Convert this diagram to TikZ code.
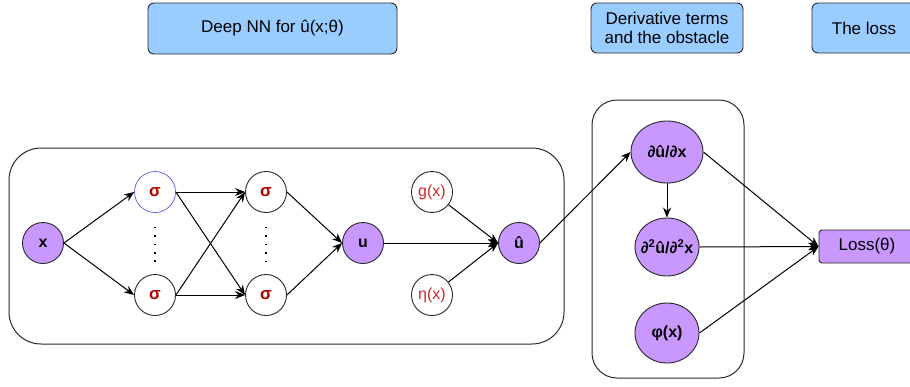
\documentclass[tikz,border=0pt]{standalone}
\usepackage{fontspec}
\setmainfont{Liberation Sans}
\usepackage{tikz}
\usetikzlibrary{
    shapes.geometric,      % Ellipses
    arrows.meta            % Modern arrow tips
}
\definecolor{nodepurple}{RGB}{200,152,255}
\definecolor{headblue}{RGB}{153,204,255}
\definecolor{sigred}{RGB}{178,0,0}
\definecolor{givenred}{RGB}{205,40,40}
\definecolor{sigblue}{RGB}{85,85,230}
\definecolor{framegray}{RGB}{40,40,40}

\begin{document}
\begin{tikzpicture}[x=1pt,y=-1pt,
    neuron/.style={circle,draw=framegray,fill=nodepurple,line width=0.9pt,minimum size=41pt,inner sep=1pt,font=\fontsize{16}{19}\selectfont\bfseries},
    hidden/.style={circle,draw=framegray,fill=white,line width=0.9pt,minimum size=41pt,inner sep=1pt,text=sigred,font=\fontsize{17}{19}\selectfont\bfseries},
    given/.style={circle,draw=framegray,fill=white,line width=0.9pt,minimum size=41pt,inner sep=1pt,text=givenred,font=\fontsize{16}{19}\selectfont},
    deriv/.style={ellipse,draw=framegray,fill=nodepurple,line width=0.9pt,inner sep=0pt,font=\fontsize{16}{19}\selectfont\bfseries},
    lossbox/.style={rectangle,rounded corners=3pt,draw=framegray,fill=nodepurple,line width=0.9pt,minimum width=96pt,minimum height=33pt,font=\fontsize{17}{20}\selectfont},
    header/.style={rectangle,rounded corners=6pt,draw=framegray,fill=headblue,line width=0.9pt,font=\fontsize{17}{19}\selectfont},
    frame/.style={draw=framegray,line width=1pt},
    link/.style={-{Stealth[length=10pt,width=8pt]},line width=1pt},
    vdots/.style={line width=1.8pt,dash pattern=on 1.5pt off 6.9pt,shorten <=14pt,shorten >=12.5pt}]
    \useasboundingbox (0,0) rectangle (910,386);

    \draw[frame,rounded corners=32pt] (9,148) rectangle (564,344);
    \draw[frame,rounded corners=25pt] (592,100) rectangle (744,378);

    \node[header,minimum width=249pt,minimum height=51pt] (nnhead) at (272.5,28.5) {Deep NN for û(x;θ)};
    \node[header,minimum width=152pt,minimum height=50pt,align=center] (derhead) at (667,28) {Derivative terms\\and the obstacle};
    \node[header,minimum width=104pt,minimum height=50pt] (losshead) at (864,28) {The loss};

    \node[neuron] (x) at (43,243) {x};
    \node[hidden,draw=sigblue,line width=0.7pt] (s1a) at (155,192) {σ};
    \node[hidden] (s1b) at (155,295) {σ};
    \node[hidden] (s2a) at (266,192) {σ};
    \node[hidden] (s2b) at (266,295) {σ};
    \node[neuron] (u) at (363,243) {u};
    \node[given] (g) at (432,192) {g(x)};
    \node[given] (eta) at (432,295) {η(x)};
    \node[neuron] (uhat) at (519,243) {û};
    \node[deriv,minimum width=72pt,minimum height=62pt] (dudx) at (667,152) {∂û/∂x};
    \node[deriv,minimum width=64pt,minimum height=58pt,label={[font=\fontsize{16}{19}\selectfont\bfseries]center:∂\textsuperscript{2}û/∂\textsuperscript{2}x}] (d2udx) at (667,247) {};
    \node[deriv,minimum width=64pt,minimum height=60pt] (phi) at (667,333) {φ(x)};
    \node[lossbox] (loss) at (867,246.5) {Loss(θ)};

    \draw[vdots] (s1a.south) -- (s1b.north);
    \draw[vdots] (s2a.south) -- (s2b.north);

    \draw[link] (x.east) -- (s1a.west);
    \draw[link] (x.east) -- (s1b.west);
    \draw[link] (s1a.east) -- (s2a.west);
    \draw[link] (s1a.east) -- (s2b.west);
    \draw[link] (s1b.east) -- (s2a.west);
    \draw[link] (s1b.east) -- (s2b.west);
    \draw[link] (s2a.east) -- (u.west);
    \draw[link] (s2b.east) -- (u.west);
    \draw[link] (u.east) -- (uhat.west);
    \draw[link] (g) -- (uhat.west);
    \draw[link] (eta) -- (uhat.west);
    \draw[link] (uhat.east) -- (dudx.west);
    \draw[link] (dudx.south) -- (d2udx.north);
    \draw[link] (dudx.east) -- (loss.west);
    \draw[link] (d2udx.east) -- (loss.west);
    \draw[link] (phi.east) -- (loss.west);
\end{tikzpicture}
\end{document}
